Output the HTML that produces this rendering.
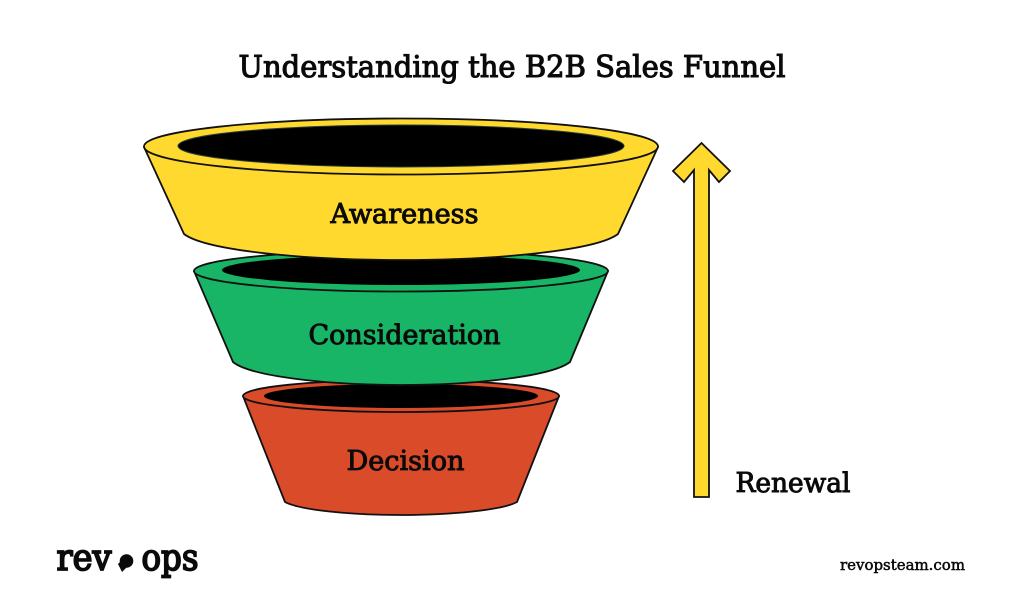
<!DOCTYPE html>
<html>
<head>
<meta charset="utf-8">
<style>
html,body{margin:0;padding:0;background:#fff;width:1024px;height:612px;overflow:hidden}
svg{display:block}
text{font-family:"DejaVu Serif",serif;font-weight:400;fill:#0a0a0a;stroke:#0a0a0a;stroke-width:.95px;paint-order:stroke}
</style>
</head>
<body>
<svg width="1024" height="612" viewBox="0 0 1024 612" xmlns="http://www.w3.org/2000/svg">
<rect width="1024" height="612" fill="#fff"/>
<text x="238.500" y="77" font-size="30" textLength="547" lengthAdjust="spacingAndGlyphs" style="stroke-width:1.1px">Understanding the B2B Sales Funnel</text>

<!-- Decision -->
<g stroke="#111" stroke-width="1.8" stroke-linejoin="round">
<path d="M243 396 L285 502 C300 510 350 515 401 515 C452 515 502 510 517 502 L559 396 Z" fill="#da4b2a"/>
<ellipse cx="401" cy="396" rx="158" ry="16" fill="#da4b2a"/>
</g>
<ellipse cx="401" cy="396" rx="137" ry="12" fill="#000"/>
<text x="346.500" y="470" font-size="27" textLength="118" lengthAdjust="spacingAndGlyphs">Decision</text>

<!-- Consideration -->
<g stroke="#111" stroke-width="1.8" stroke-linejoin="round">
<path d="M194 271 L233 362 C250 376 325 385 401 385 C477 385 552 376 570 362 L608 271 Z" fill="#19b566"/>
<ellipse cx="401" cy="271" rx="207" ry="20.500" fill="#19b566"/>
</g>
<ellipse cx="401" cy="270" rx="179" ry="15" fill="#000"/>
<text x="308.500" y="344" font-size="27" textLength="192" lengthAdjust="spacingAndGlyphs">Consideration</text>

<!-- Awareness -->
<g stroke="#111" stroke-width="1.8" stroke-linejoin="round">
<path d="M144 147 L184 234 C205 250 300 260 401 260 C502 260 597 250 618 234 L658 147 Z" fill="#ffd92e"/>
<ellipse cx="401" cy="146.500" rx="257" ry="28" fill="#ffd92e"/>
</g>
<ellipse cx="401" cy="146" rx="223" ry="21" fill="#000" stroke="#2a3a3a" stroke-width="1"/>
<text x="330.500" y="223" font-size="27" textLength="148" lengthAdjust="spacingAndGlyphs">Awareness</text>

<!-- Arrow -->
<path d="M701.500 143 L730 171 L719 182 L709 170 L709 497 L694 497 L694 170 L684 182 L673 171 Z" fill="#ffd92e" stroke="#111" stroke-width="1.800" stroke-linejoin="miter"/>
<text x="735.500" y="492" font-size="27" textLength="115" lengthAdjust="spacingAndGlyphs">Renewal</text>

<!-- Logo -->
<text x="56.500" y="570" font-size="36" textLength="55" lengthAdjust="spacingAndGlyphs" style="stroke-width:1.800px">rev</text>
<text x="141.500" y="570" font-size="36" textLength="57" lengthAdjust="spacingAndGlyphs" style="stroke-width:1.800px">ops</text>
<circle cx="126.500" cy="561" r="6.800" fill="#0a0a0a"/>
<path d="M118 564 L124 558 L128 566 L122 572 Z" fill="#0a0a0a"/>

<text x="840" y="570" font-size="14.500" textLength="125" lengthAdjust="spacingAndGlyphs" style="stroke-width:.5px">revopsteam.com</text>
</svg>
</body>
</html>
